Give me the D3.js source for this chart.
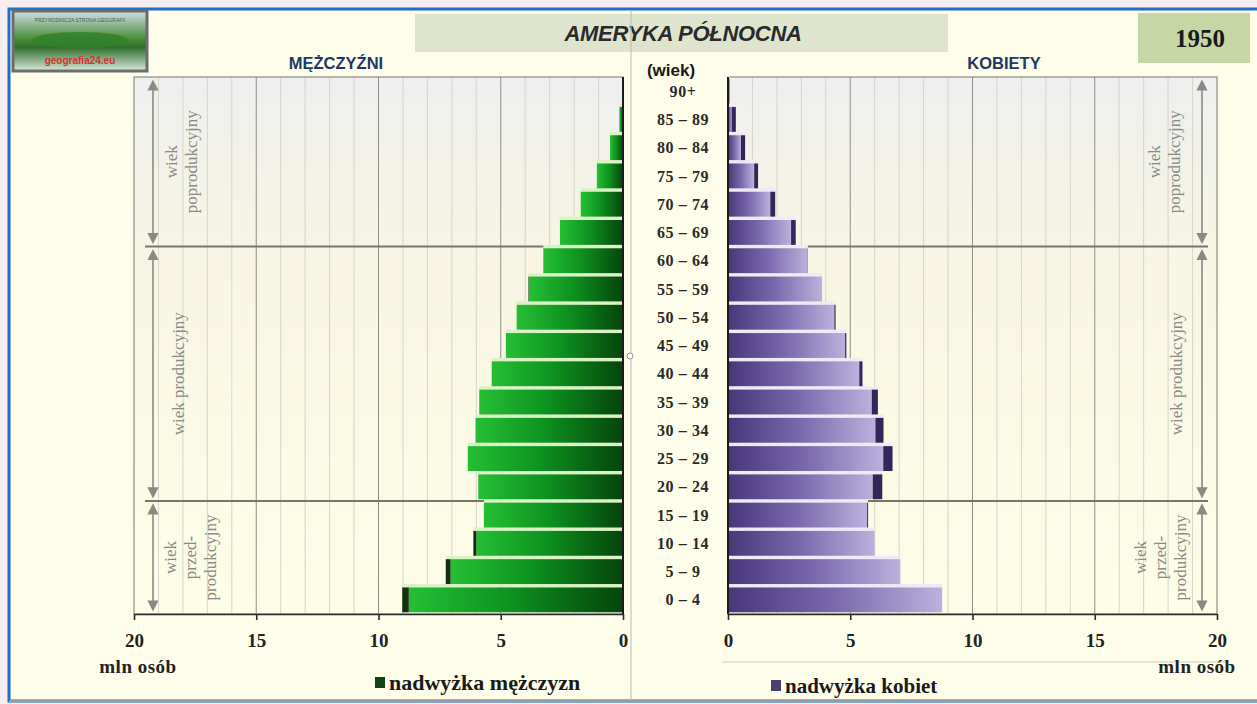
<!DOCTYPE html>
<html><head><meta charset="utf-8">
<script src="https://cdn.jsdelivr.net/npm/d3@7"></script>
<style>
html,body{margin:0;padding:0;background:#f6eef0;}
svg{display:block;}
</style></head>
<body>
<svg id="chart" width="1257" height="704"></svg>
<script>
// ---------- DATA ----------
const ages = ["0 – 4","5 – 9","10 – 14","15 – 19","20 – 24","25 – 29","30 – 34","35 – 39","40 – 44","45 – 49","50 – 54","55 – 59","60 – 64","65 – 69","70 – 74","75 – 79","80 – 84","85 – 89","90+"];
const males   = [9.03, 7.25, 6.12, 5.69, 5.92, 6.35, 6.03, 5.88, 5.37, 4.79, 4.35, 3.87, 3.26, 2.58, 1.73, 1.07, 0.53, 0.15, 0.04];
const females = [8.76, 7.05, 6.00, 5.73, 6.31, 6.73, 6.36, 6.13, 5.50, 4.84, 4.40, 3.85, 3.27, 2.77, 1.93, 1.23, 0.70, 0.32, 0.06];
const tickValues = [0, 5, 10, 15, 20];
const title = "AMERYKA PÓŁNOCNA";
const year = "1950";
const leftTitle = "MĘŻCZYŹNI";
const rightTitle = "KOBIETY";
const ageTitle = "(wiek)";
const unitLabel = "mln osób";
const legendMale = "nadwyżka mężczyzn";
const legendFemale = "nadwyżka kobiet";
const zoneLabels = [
  {lines:["wiek","poprodukcyjny"]},
  {lines:["wiek produkcyjny"]},
  {lines:["wiek","przed-","produkcyjny"]}
];

// ---------- LAYOUT ----------
const svg = d3.select("#chart");
const yTop = 77, yBottom = 614;
const xL = d3.scaleLinear().domain([0, 20]).range([623, 134]);
const xR = d3.scaleLinear().domain([0, 20]).range([728, 1217]);
const y = d3.scaleBand().domain(ages.slice().reverse()).range([yTop, yBottom]).paddingInner(0.12).paddingOuter(0.06);
const step = y.step();
const serif = "'Liberation Serif','DejaVu Serif',serif";
const sans = "'Liberation Sans','DejaVu Sans',sans-serif";

const defs = svg.append("defs");
function lg(id, stops, x2=1, y2=0) {
  const g = defs.append("linearGradient").attr("id", id).attr("x1",0).attr("y1",0).attr("x2",x2).attr("y2",y2);
  stops.forEach(s => g.append("stop").attr("offset", s[0]).attr("stop-color", s[1]));
}
lg("gMale", [["0%","#25bf34"],["45%","#0e9420"],["100%","#04440c"]]);
lg("gFemale", [["0%","#47367a"],["50%","#7a69ad"],["100%","#bcb1dc"]]);
lg("gPlot", [["0%","#eeefef"],["35%","#f8f6e2"],["100%","#fefde6"]], 0, 1);
lg("gLogo", [["0%","#cfe0e8"],["45%","#4d8f3a"],["60%","#2f6e2a"],["100%","#d9e8dc"]], 0, 1);
const mk = defs.append("marker").attr("id","arr").attr("viewBox","0 0 10 10").attr("refX",5).attr("refY",5)
  .attr("markerWidth",7).attr("markerHeight",7).attr("orient","auto-start-reverse");
mk.append("path").attr("d","M0,0 L10,5 L0,10 z").attr("fill","#8a8a84");

// page frame
svg.append("rect").attr("x",9).attr("y",9).attr("width",1260).attr("height",692)
  .attr("fill","#fefde9").attr("stroke","#1f6fc4").attr("stroke-width",3);
svg.append("line").attr("x1",9).attr("x2",1257).attr("y1",701).attr("y2",701).attr("stroke","#9a9a98").attr("stroke-width",2);

// logo
const logo = svg.append("g");
logo.append("rect").attr("x",13).attr("y",11).attr("width",134).attr("height",60).attr("fill","url(#gLogo)").attr("stroke","#6d6d6d").attr("stroke-width",3);
logo.append("ellipse").attr("cx",80).attr("cy",40).attr("rx",48).attr("ry",8).attr("fill","#2f7f2a").attr("opacity",0.8);
logo.append("text").attr("x",80).attr("y",64).attr("text-anchor","middle").attr("font-family",sans).attr("font-weight","bold")
  .attr("font-size",10).attr("fill","#d8322a").text("geografia24.eu");
logo.append("text").attr("x",80).attr("y",22).attr("text-anchor","middle").attr("font-family",sans)
  .attr("font-size",5).attr("fill","#555").text("PRZYRODNICZA STRONA GEOGRAFII");

// title boxes
svg.append("rect").attr("x",415).attr("y",14).attr("width",533).attr("height",38).attr("fill","#dfe5cc");
svg.append("text").attr("x",683).attr("y",41).attr("text-anchor","middle").attr("font-family",sans)
  .attr("font-style","italic").attr("font-weight","bold").attr("font-size",22).attr("letter-spacing",-0.3).attr("fill","#2a2a2a").text(title);
svg.append("rect").attr("x",1138).attr("y",13).attr("width",112).attr("height",50).attr("fill","#c7d6a5");
svg.append("text").attr("x",1200).attr("y",47).attr("text-anchor","middle").attr("font-family",serif)
  .attr("font-weight","bold").attr("font-size",25).attr("fill","#1a1a1a").text(year);

// center thin line
svg.append("line").attr("x1",631).attr("x2",631).attr("y1",11).attr("y2",701).attr("stroke","#b9b9b2").attr("stroke-width",1);

// panel headers
svg.append("text").attr("x",336).attr("y",69).attr("text-anchor","middle").attr("font-family",sans).attr("font-weight","bold")
  .attr("font-size",16.5).attr("fill","#1f3868").text(leftTitle);
svg.append("text").attr("x",1004).attr("y",69).attr("text-anchor","middle").attr("font-family",sans).attr("font-weight","bold")
  .attr("font-size",16.5).attr("fill","#1f3868").text(rightTitle);
svg.append("text").attr("x",671).attr("y",76).attr("text-anchor","middle").attr("font-family",sans).attr("font-weight","bold")
  .attr("font-size",17).attr("fill","#1a1a1a").text(ageTitle);

// plot backgrounds
function panel(x) {
  const [a, b] = x.range().slice().sort((p,q)=>p-q);
  svg.append("rect").attr("x",a).attr("y",yTop).attr("width",b-a).attr("height",yBottom-yTop).attr("fill","url(#gPlot)");
  const minor = d3.range(1, 20).filter(v => v % 5 !== 0);
  svg.append("g").selectAll("line").data(minor).join("line")
    .attr("x1",d=>x(d)).attr("x2",d=>x(d)).attr("y1",yTop).attr("y2",yBottom).attr("stroke","#d6d6c9").attr("stroke-width",1);
  svg.append("g").selectAll("line").data([5,10,15]).join("line")
    .attr("x1",d=>x(d)).attr("x2",d=>x(d)).attr("y1",yTop).attr("y2",yBottom).attr("stroke","#8f8f86").attr("stroke-width",1);
  svg.append("rect").attr("x",a).attr("y",yTop).attr("width",b-a).attr("height",yBottom-yTop).attr("fill","none").attr("stroke","#8d8d86").attr("stroke-width",1.2);
}
panel(xL); panel(xR);

// zone separators
const sepYs = [y("65 – 69") + y.bandwidth() + (step - y.bandwidth())/2, y("15 – 19") - (step - y.bandwidth())/2];
svg.append("g").selectAll("line").data(sepYs).join("line")
  .attr("x1",145).attr("x2",xL(0)).attr("y1",d=>d).attr("y2",d=>d).attr("stroke","#76766a").attr("stroke-width",2);
svg.append("g").selectAll("line").data(sepYs).join("line")
  .attr("x1",xR(0)).attr("x2",1208).attr("y1",d=>d).attr("y2",d=>d).attr("stroke","#76766a").attr("stroke-width",2);

// bars
const rows = ages.map((a, i) => ({age: a, m: males[i], f: females[i], lo: Math.min(males[i], females[i])}));
const bh = y.bandwidth();
// light gaps
svg.append("g").selectAll("rect").data(rows).join("rect")
  .attr("x", d => xL(d.m)).attr("y", d => y(d.age) - (step-bh)).attr("width", d => xL(0) - xL(d.m)).attr("height", step-bh)
  .attr("fill", "#d9f3c4");
svg.append("g").selectAll("rect").data(rows).join("rect")
  .attr("x", xR(0)).attr("y", d => y(d.age) - (step-bh)).attr("width", d => xR(d.f) - xR(0)).attr("height", step-bh)
  .attr("fill", "#efe9f8");
// male
svg.append("g").selectAll("rect").data(rows).join("rect")
  .attr("x", d => xL(d.lo)).attr("y", d => y(d.age)).attr("width", d => xL(0) - xL(d.lo)).attr("height", bh)
  .attr("fill", "url(#gMale)");
svg.append("g").selectAll("rect").data(rows.filter(d => d.m > d.f)).join("rect")
  .attr("x", d => xL(d.m)).attr("y", d => y(d.age)).attr("width", d => xL(d.lo) - xL(d.m)).attr("height", bh)
  .attr("fill", "#12320f");
// female
svg.append("g").selectAll("rect").data(rows).join("rect")
  .attr("x", xR(0)).attr("y", d => y(d.age)).attr("width", d => xR(d.lo) - xR(0)).attr("height", bh)
  .attr("fill", "url(#gFemale)");
svg.append("g").selectAll("rect").data(rows.filter(d => d.f > d.m)).join("rect")
  .attr("x", d => xR(d.lo)).attr("y", d => y(d.age)).attr("width", d => xR(d.f) - xR(d.lo)).attr("height", bh)
  .attr("fill", "#33275a");

// zero axes
svg.append("line").attr("x1",xL(0)).attr("x2",xL(0)).attr("y1",yTop).attr("y2",yBottom).attr("stroke","#1b1b1b").attr("stroke-width",2);
svg.append("line").attr("x1",xR(0)).attr("x2",xR(0)).attr("y1",yTop).attr("y2",yBottom).attr("stroke","#1b1b1b").attr("stroke-width",2);

// bottom axes
function axis(x) {
  const g = svg.append("g").attr("transform", `translate(0,${yBottom})`)
    .call(d3.axisBottom(x).tickValues(tickValues).tickSizeInner(6).tickSizeOuter(0).tickPadding(14).tickFormat(d3.format("d")));
  g.select(".domain").attr("stroke","#2a2a2a").attr("stroke-width",1.6);
  g.selectAll(".tick line").attr("stroke","#2a2a2a").attr("stroke-width",1.6);
  g.selectAll(".tick text").attr("font-family",serif).attr("font-weight","bold").attr("font-size",19).attr("fill","#222");
}
axis(xL); axis(xR);
svg.append("line").attr("x1",722).attr("x2",1226).attr("y1",662).attr("y2",662).attr("stroke","#dcdccf").attr("stroke-width",1.5);

// age labels
svg.append("g").selectAll("text").data(ages).join("text")
  .attr("x",683).attr("y",d => y(d) + bh/2).attr("dy","0.35em").attr("text-anchor","middle")
  .attr("font-family",serif).attr("font-weight","bold").attr("font-size",16).attr("letter-spacing",0.6).attr("fill","#2a2a2a").text(d => d);

// unit labels
svg.append("text").attr("x",138).attr("y",673).attr("text-anchor","middle").attr("font-family",serif).attr("font-weight","bold")
  .attr("font-size",19).attr("letter-spacing",0.5).attr("fill","#222").text(unitLabel);
svg.append("text").attr("x",1197).attr("y",673).attr("text-anchor","middle").attr("font-family",serif).attr("font-weight","bold")
  .attr("font-size",19).attr("letter-spacing",0.5).attr("fill","#222").text(unitLabel);

// zone arrows and labels
const zoneBounds = [[yTop, sepYs[0]], [sepYs[0], sepYs[1]], [sepYs[1], yBottom]];
function zones(ax, cxs) {
  zoneBounds.forEach((b, i) => {
    svg.append("line").attr("x1",ax).attr("x2",ax).attr("y1",b[0]+8).attr("y2",b[1]-8)
      .attr("stroke","#8a8a84").attr("stroke-width",1.6).attr("marker-start","url(#arr)").attr("marker-end","url(#arr)");
    const z = zoneLabels[i];
    const cy = (b[0] + b[1]) / 2;
    const n = z.lines.length;
    const t = svg.append("text").attr("transform", `translate(${cxs[i]},${cy}) rotate(-90)`).attr("text-anchor","middle")
      .attr("font-family",serif).attr("font-size",17).attr("fill","#8a8a86");
    z.lines.forEach((l, j) => t.append("tspan").attr("x",0).attr("y", (j - (n-1)/2) * 20 + 5.5).text(l));
  });
}
zones(153, [181, 178, 190]);
zones(1202, [1164, 1176, 1160]);

// small circle artifact
svg.append("circle").attr("cx",630).attr("cy",356).attr("r",3).attr("fill","#fff").attr("stroke","#999");

// legends
svg.append("rect").attr("x",375).attr("y",677).attr("width",10).attr("height",11).attr("fill","#0f4514");
svg.append("text").attr("x",389).attr("y",690).attr("font-family",serif).attr("font-weight","bold").attr("font-size",22).attr("fill","#1a1a1a").text(legendMale);
svg.append("rect").attr("x",771).attr("y",680).attr("width",10).attr("height",11).attr("fill","#4a4070");
svg.append("text").attr("x",785).attr("y",693).attr("font-family",serif).attr("font-weight","bold").attr("font-size",21).attr("fill","#1a1a1a").text(legendFemale);
</script>
</body></html>
